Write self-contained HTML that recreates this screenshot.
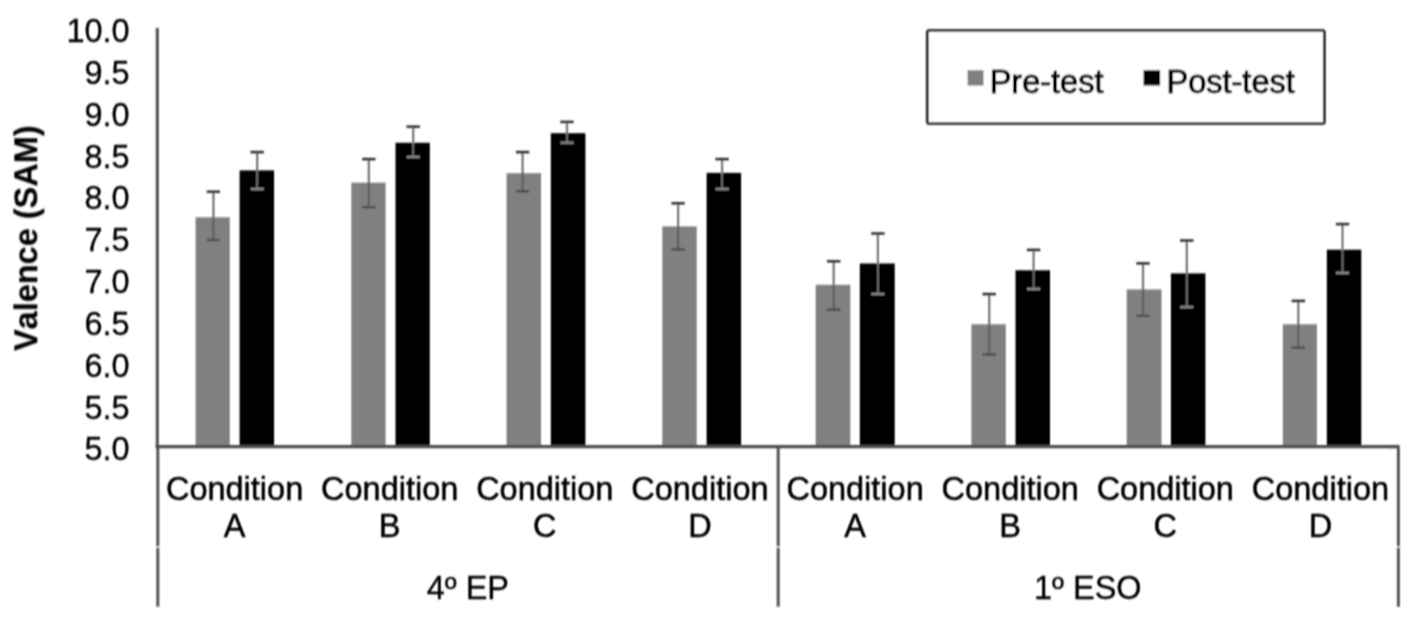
<!DOCTYPE html>
<html lang="en"><head><meta charset="utf-8"><title>Valence (SAM) chart</title>
<style>
html,body{margin:0;padding:0;background:#fff;}
body{width:1417px;height:618px;overflow:hidden;}
svg{display:block;}
text{font-family:"Liberation Sans",Arial,Helvetica,sans-serif;fill:#000000;stroke:#000000;stroke-width:0.32px;stroke-linejoin:round;font-kerning:none;}
text.lg{stroke-width:1px;}
text.ct{stroke-width:0.5px;}
</style></head><body>
<svg width="1417" height="618" viewBox="0 0 1417 618">
<defs><filter id="soft" x="0" y="0" width="1417" height="618" filterUnits="userSpaceOnUse"><feConvolveMatrix order="3 5" kernelMatrix="0.01250 0.02500 0.01250 0.06250 0.12500 0.06250 0.10000 0.20000 0.10000 0.06250 0.12500 0.06250 0.01250 0.02500 0.01250" divisor="1" edgeMode="duplicate" preserveAlpha="false"/></filter></defs>
<rect x="0" y="0" width="1417" height="618" fill="#ffffff"/>
<g filter="url(#soft)">
<g shape-rendering="geometricPrecision">
<rect x="195.6" y="217.3" width="34.2" height="229.2" fill="#808080"/>
<rect x="239.6" y="170.4" width="34.5" height="276.1" fill="#000000"/>
<rect x="351.3" y="182.7" width="34.3" height="263.8" fill="#808080"/>
<rect x="395.5" y="142.8" width="34.3" height="303.7" fill="#000000"/>
<rect x="506.6" y="173.2" width="34.5" height="273.3" fill="#808080"/>
<rect x="550.8" y="133.2" width="34.6" height="313.3" fill="#000000"/>
<rect x="662.3" y="226.4" width="34.4" height="220.1" fill="#808080"/>
<rect x="706.6" y="172.9" width="34.5" height="273.6" fill="#000000"/>
<rect x="815.7" y="284.8" width="34.6" height="161.7" fill="#808080"/>
<rect x="859.8" y="263.5" width="34.9" height="183.0" fill="#000000"/>
<rect x="971.4" y="324.3" width="34.4" height="122.2" fill="#808080"/>
<rect x="1015.5" y="270.3" width="34.5" height="176.2" fill="#000000"/>
<rect x="1126.7" y="289.4" width="34.8" height="157.1" fill="#808080"/>
<rect x="1170.9" y="273.4" width="34.5" height="173.1" fill="#000000"/>
<rect x="1282.8" y="324.3" width="34.1" height="122.2" fill="#808080"/>
<rect x="1326.8" y="249.7" width="34.5" height="196.8" fill="#000000"/>
</g>
<g>
<path d="M213.4 191.7V217.3" stroke="#808080" stroke-width="2.4" fill="none"/>
<path d="M213.4 217.3V240.0" stroke="#606060" stroke-width="2.3" fill="none"/>
<path d="M206.7 191.7H220.1" stroke="#222222" stroke-width="2.4" fill="none"/>
<path d="M206.7 240.0H220.1" stroke="#484848" stroke-width="2.3" fill="none"/>
<path d="M257.2 152.1V170.4" stroke="#808080" stroke-width="2.4" fill="none"/>
<path d="M257.2 170.4V189.0" stroke="#626262" stroke-width="2.3" fill="none"/>
<path d="M250.5 152.1H263.9" stroke="#222222" stroke-width="2.4" fill="none"/>
<path d="M250.5 189.0H263.9" stroke="#888888" stroke-width="2.3" fill="none"/>
<path d="M368.8 159.1V182.7" stroke="#808080" stroke-width="2.4" fill="none"/>
<path d="M368.8 182.7V207.2" stroke="#606060" stroke-width="2.3" fill="none"/>
<path d="M362.1 159.1H375.5" stroke="#222222" stroke-width="2.4" fill="none"/>
<path d="M362.1 207.2H375.5" stroke="#484848" stroke-width="2.3" fill="none"/>
<path d="M413.2 126.7V142.8" stroke="#808080" stroke-width="2.4" fill="none"/>
<path d="M413.2 142.8V156.9" stroke="#626262" stroke-width="2.3" fill="none"/>
<path d="M406.5 126.7H419.9" stroke="#222222" stroke-width="2.4" fill="none"/>
<path d="M406.5 156.9H419.9" stroke="#888888" stroke-width="2.3" fill="none"/>
<path d="M522.6 152.1V173.2" stroke="#808080" stroke-width="2.4" fill="none"/>
<path d="M522.6 173.2V191.2" stroke="#606060" stroke-width="2.3" fill="none"/>
<path d="M515.9 152.1H529.3" stroke="#222222" stroke-width="2.4" fill="none"/>
<path d="M515.9 191.2H529.3" stroke="#484848" stroke-width="2.3" fill="none"/>
<path d="M567.0 121.9V133.2" stroke="#808080" stroke-width="2.4" fill="none"/>
<path d="M567.0 133.2V142.7" stroke="#626262" stroke-width="2.3" fill="none"/>
<path d="M560.3 121.9H573.7" stroke="#222222" stroke-width="2.4" fill="none"/>
<path d="M560.3 142.7H573.7" stroke="#888888" stroke-width="2.3" fill="none"/>
<path d="M678.1 203.3V226.4" stroke="#808080" stroke-width="2.4" fill="none"/>
<path d="M678.1 226.4V249.5" stroke="#606060" stroke-width="2.3" fill="none"/>
<path d="M671.4 203.3H684.8" stroke="#222222" stroke-width="2.4" fill="none"/>
<path d="M671.4 249.5H684.8" stroke="#484848" stroke-width="2.3" fill="none"/>
<path d="M722.1 159.1V172.9" stroke="#808080" stroke-width="2.4" fill="none"/>
<path d="M722.1 172.9V189.0" stroke="#626262" stroke-width="2.3" fill="none"/>
<path d="M715.4 159.1H728.8" stroke="#222222" stroke-width="2.4" fill="none"/>
<path d="M715.4 189.0H728.8" stroke="#888888" stroke-width="2.3" fill="none"/>
<path d="M833.7 261.3V284.8" stroke="#808080" stroke-width="2.4" fill="none"/>
<path d="M833.7 284.8V309.8" stroke="#606060" stroke-width="2.3" fill="none"/>
<path d="M827.0 261.3H840.4" stroke="#222222" stroke-width="2.4" fill="none"/>
<path d="M827.0 309.8H840.4" stroke="#484848" stroke-width="2.3" fill="none"/>
<path d="M877.9 233.5V263.5" stroke="#808080" stroke-width="2.4" fill="none"/>
<path d="M877.9 263.5V294.1" stroke="#626262" stroke-width="2.3" fill="none"/>
<path d="M871.2 233.5H884.6" stroke="#222222" stroke-width="2.4" fill="none"/>
<path d="M871.2 294.1H884.6" stroke="#888888" stroke-width="2.3" fill="none"/>
<path d="M989.2 294.1V324.3" stroke="#808080" stroke-width="2.4" fill="none"/>
<path d="M989.2 324.3V354.5" stroke="#606060" stroke-width="2.3" fill="none"/>
<path d="M982.5 294.1H995.9" stroke="#222222" stroke-width="2.4" fill="none"/>
<path d="M982.5 354.5H995.9" stroke="#484848" stroke-width="2.3" fill="none"/>
<path d="M1033.6 249.9V270.3" stroke="#808080" stroke-width="2.4" fill="none"/>
<path d="M1033.6 270.3V289.0" stroke="#626262" stroke-width="2.3" fill="none"/>
<path d="M1026.9 249.9H1040.3" stroke="#222222" stroke-width="2.4" fill="none"/>
<path d="M1026.9 289.0H1040.3" stroke="#888888" stroke-width="2.3" fill="none"/>
<path d="M1143.0 263.4V289.4" stroke="#808080" stroke-width="2.4" fill="none"/>
<path d="M1143.0 289.4V315.9" stroke="#606060" stroke-width="2.3" fill="none"/>
<path d="M1136.3 263.4H1149.7" stroke="#222222" stroke-width="2.4" fill="none"/>
<path d="M1136.3 315.9H1149.7" stroke="#484848" stroke-width="2.3" fill="none"/>
<path d="M1186.8 240.5V273.4" stroke="#808080" stroke-width="2.4" fill="none"/>
<path d="M1186.8 273.4V307.2" stroke="#626262" stroke-width="2.3" fill="none"/>
<path d="M1180.1 240.5H1193.5" stroke="#222222" stroke-width="2.4" fill="none"/>
<path d="M1180.1 307.2H1193.5" stroke="#888888" stroke-width="2.3" fill="none"/>
<path d="M1298.3 300.9V324.3" stroke="#808080" stroke-width="2.4" fill="none"/>
<path d="M1298.3 324.3V347.7" stroke="#606060" stroke-width="2.3" fill="none"/>
<path d="M1291.6 300.9H1305.0" stroke="#222222" stroke-width="2.4" fill="none"/>
<path d="M1291.6 347.7H1305.0" stroke="#484848" stroke-width="2.3" fill="none"/>
<path d="M1342.5 224.1V249.7" stroke="#808080" stroke-width="2.4" fill="none"/>
<path d="M1342.5 249.7V272.9" stroke="#626262" stroke-width="2.3" fill="none"/>
<path d="M1335.8 224.1H1349.2" stroke="#222222" stroke-width="2.4" fill="none"/>
<path d="M1335.8 272.9H1349.2" stroke="#888888" stroke-width="2.3" fill="none"/>
</g>
<g fill="none" stroke-linecap="butt">
<path d="M157.3 28V447.6" stroke="#585858" stroke-width="3.2"/>
<path d="M155.7 446.6H1392" stroke="#484848" stroke-width="3.3"/>
<path d="M1390 446.6H1398.3" stroke="#484848" stroke-width="3.3" stroke-linecap="round"/>
<path d="M157.8 448V546.3M157.8 547.7V606.8M778.2 448V546.3M778.2 547.7V606.8M1398.4 448V546.3M1398.4 547.7V606.8" stroke="#5c5c5c" stroke-width="3.1"/>
</g>
<g font-size="32.5" text-anchor="end">
<text x="129.7" y="41.9">10.0</text>
<text x="129.7" y="83.8">9.5</text>
<text x="129.7" y="125.6">9.0</text>
<text x="129.7" y="167.5">8.5</text>
<text x="129.7" y="209.3">8.0</text>
<text x="129.7" y="251.2">7.5</text>
<text x="129.7" y="293.0">7.0</text>
<text x="129.7" y="334.8">6.5</text>
<text x="129.7" y="376.7">6.0</text>
<text x="129.7" y="418.6">5.5</text>
<text x="129.7" y="460.4">5.0</text>
</g>
<text transform="translate(37.3 238.2) rotate(-90)" font-size="32.5" font-weight="bold" style="stroke-width:0.15px" text-anchor="middle">Valence (SAM)</text>
<g font-size="32.5" text-anchor="middle">
<text class="ct" x="234.6" y="499.9">Condition</text>
<text class="ct" x="234.6" y="536.6">A</text>
<text class="ct" x="389.7" y="499.9">Condition</text>
<text class="ct" x="389.7" y="536.6">B</text>
<text class="ct" x="544.8" y="499.9">Condition</text>
<text class="ct" x="544.8" y="536.6">C</text>
<text class="ct" x="699.9" y="499.9">Condition</text>
<text class="ct" x="699.9" y="536.6">D</text>
<text class="ct" x="855.1" y="499.9">Condition</text>
<text class="ct" x="855.1" y="536.6">A</text>
<text class="ct" x="1010.2" y="499.9">Condition</text>
<text class="ct" x="1010.2" y="536.6">B</text>
<text class="ct" x="1165.3" y="499.9">Condition</text>
<text class="ct" x="1165.3" y="536.6">C</text>
<text class="ct" x="1320.4" y="499.9">Condition</text>
<text class="ct" x="1320.4" y="536.6">D</text>
<text x="467.9" y="599.2">4º EP</text>
<text x="1087.8" y="599.2">1º ESO</text>
</g>
<rect x="927.3" y="30.6" width="397.1" height="92.9" rx="2" ry="2" fill="#ffffff" stroke="#3a3a3a" stroke-width="3"/>
<rect x="967.6" y="70.2" width="15.9" height="15.4" fill="#808080"/>
<rect x="1143.6" y="70" width="16.5" height="15.6" fill="#000000"/>
<g font-size="32.5">
<text class="lg" x="989.7" y="93.1">Pre-test</text>
<text class="lg" x="1166.5" y="93.1">Post-test</text>
</g>
</g>
</svg>
</body></html>
